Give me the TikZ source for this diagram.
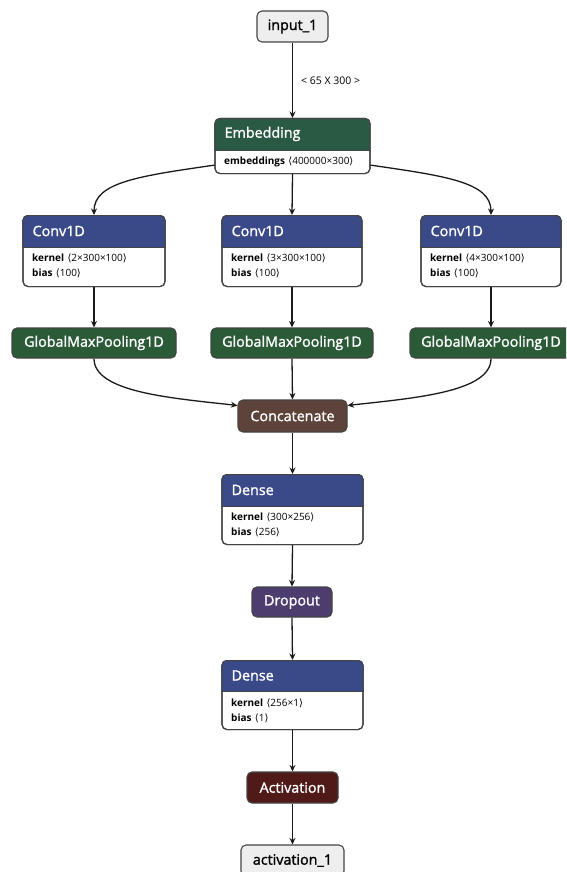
\documentclass[tikz,border=0pt]{standalone}
\usepackage{fontspec}
\setmainfont{Open Sans}
\newfontfamily\brk{DejaVu Sans}
\newfontfamily\semib[FakeBold=1.5]{Open Sans}
\usetikzlibrary{arrows.meta,calc}

\definecolor{cLayer}{HTML}{3A4A89}
\definecolor{cEmbed}{HTML}{2B5A44}
\definecolor{cPool}{HTML}{2A5A36}
\definecolor{cConcat}{HTML}{5D4339}
\definecolor{cDrop}{HTML}{4D3C6E}
\definecolor{cAct}{HTML}{4F1A17}
\definecolor{cIO}{HTML}{EEEEEE}
\definecolor{cEdge}{HTML}{1A1A1A}
\definecolor{cBorder}{HTML}{444444}

\newcommand{\lb}{{\brk\char"27E8}}
\newcommand{\rb}{{\brk\char"27E9}}

\tikzset{
  frame/.style={draw=cBorder, line width=1.1pt, rounded corners=5pt, inner sep=0pt},
  iobox/.style={frame, fill=cIO, text=black, font=\semib\fontsize{14.3}{16}\selectfont},
  opbox/.style={frame, fill=#1, text=white, font=\semib\fontsize{14.3}{16}\selectfont},
  ttl/.style={anchor=west, text=white, inner sep=0pt, font=\semib\fontsize{14.3}{16}\selectfont},
  attr/.style={anchor=west, inner sep=0pt, font=\fontsize{10}{12}\selectfont},
  edge/.style={draw=cEdge, line width=1.3pt, -{Stealth[length=6.5pt,width=6pt]}},
  elabel/.style={font=\fontsize{10.5}{12}\selectfont, inner sep=0pt, anchor=west}
}

% layer box with coloured header and white attribute body
% #1 name, #2 centre x, #3 top y, #4 width, #5 height, #6 header height, #7 colour, #8 title
\newcommand{\layerbox}[8]{%
  \node[frame, fill=white, minimum width=#4pt, minimum height=#5pt, anchor=north] (#1) at (#2,#3) {};
  \begin{scope}
    \clip[rounded corners=5pt] (#1.north west) rectangle (#1.south east);
    \fill[#7] (#1.north west) rectangle ($(#1.north east)+(0,#6)$);
  \end{scope}
  \draw[cBorder, line width=0.8pt] ($(#1.north west)+(0,#6)$) -- ($(#1.north east)+(0,#6)$);
  \node[frame, minimum width=#4pt, minimum height=#5pt, anchor=north] at (#2,#3) {};
  \node[ttl] (#1-t) at ($(#1.north west)+(10,#6/2)$) {#8};
}

\begin{document}
\begin{tikzpicture}[x=1pt,y=-1pt]
\useasboundingbox (0,0) rectangle (566,872);
\clip (0,0) rectangle (566,872);

% input
\node[iobox, minimum width=71pt, minimum height=31pt] (in) at (292.5,26.5) {input\_1};

% embedding
\layerbox{emb}{292.5}{118}{155}{55}{32}{cEmbed}{Embedding}
\node[attr] at (224,161.5) {\textbf{embeddings}\,\,\lb 400000×300\rb};

% three convolution branches
\layerbox{c1}{94}{215}{142}{71}{32}{cLayer}{Conv1D}
\node[attr] at (32,258) {\textbf{kernel}\,\,\lb 2×300×100\rb};
\node[attr] at (32,273) {\textbf{bias}\,\,\lb 100\rb};

\layerbox{c2}{292}{215}{140}{71}{32}{cLayer}{Conv1D}
\node[attr] at (231,258) {\textbf{kernel}\,\,\lb 3×300×100\rb};
\node[attr] at (231,273) {\textbf{bias}\,\,\lb 100\rb};

\layerbox{c3}{491}{215}{140}{71}{32}{cLayer}{Conv1D}
\node[attr] at (430,258) {\textbf{kernel}\,\,\lb 4×300×100\rb};
\node[attr] at (430,273) {\textbf{bias}\,\,\lb 100\rb};

% pooling
\node[opbox=cPool, minimum width=164pt, minimum height=30pt] (p1) at (94,343) {GlobalMaxPooling1D};
\node[opbox=cPool, minimum width=162pt, minimum height=30pt] (p2) at (292,343) {GlobalMaxPooling1D};
\node[opbox=cPool, minimum width=162pt, minimum height=30pt] (p3) at (491,343) {GlobalMaxPooling1D};

% merge and head
\node[opbox=cConcat, minimum width=109pt, minimum height=32pt] (cat) at (292.5,416) {Concatenate};

\layerbox{d1}{292.5}{474}{141}{70}{32}{cLayer}{Dense}
\node[attr] at (231,517) {\textbf{kernel}\,\,\lb 300×256\rb};
\node[attr] at (231,532) {\textbf{bias}\,\,\lb 256\rb};

\node[opbox=cDrop, minimum width=80pt, minimum height=30pt] (drop) at (292,602) {Dropout};

\layerbox{d2}{292.5}{660}{141}{69}{31}{cLayer}{Dense}
\node[attr] at (231,703) {\textbf{kernel}\,\,\lb 256×1\rb};
\node[attr] at (231,718) {\textbf{bias}\,\,\lb 1\rb};

\node[opbox=cAct, minimum width=91pt, minimum height=31pt] (act) at (292.5,787.5) {Activation};

\node[iobox, minimum width=103pt, minimum height=31pt] (out) at (292.5,860.5) {activation\_1};

% connectors
\draw[edge] (in.south) -- node[elabel, xshift=8pt] {< 65 X 300 >} (emb.north);
\draw[edge] (emb.south) -- (c2.north);
\draw[edge] ($(emb.south west)+(0,-9)$) .. controls (140,176) and (94,182) .. (c1.north);
\draw[edge] ($(emb.south east)+(0,-9)$) .. controls (445,176) and (491,182) .. (c3.north);
\draw[edge] (c1.south) -- (p1.north);
\draw[edge] (c2.south) -- (p2.north);
\draw[edge] (c3.south) -- (p3.north);
\draw[edge] (p1.south) .. controls (94,392) and (170,398) .. ($(cat.north west)+(0,6)$);
\draw[edge] (p2.south) -- (cat.north);
\draw[edge] (p3.south) .. controls (491,392) and (415,398) .. ($(cat.north east)+(0,6)$);
\draw[edge] (cat.south) -- (d1.north);
\draw[edge] (d1.south) -- (drop.north);
\draw[edge] (drop.south) -- (d2.north);
\draw[edge] (d2.south) -- (act.north);
\draw[edge] (act.south) -- (out.north);
\end{tikzpicture}
\end{document}
